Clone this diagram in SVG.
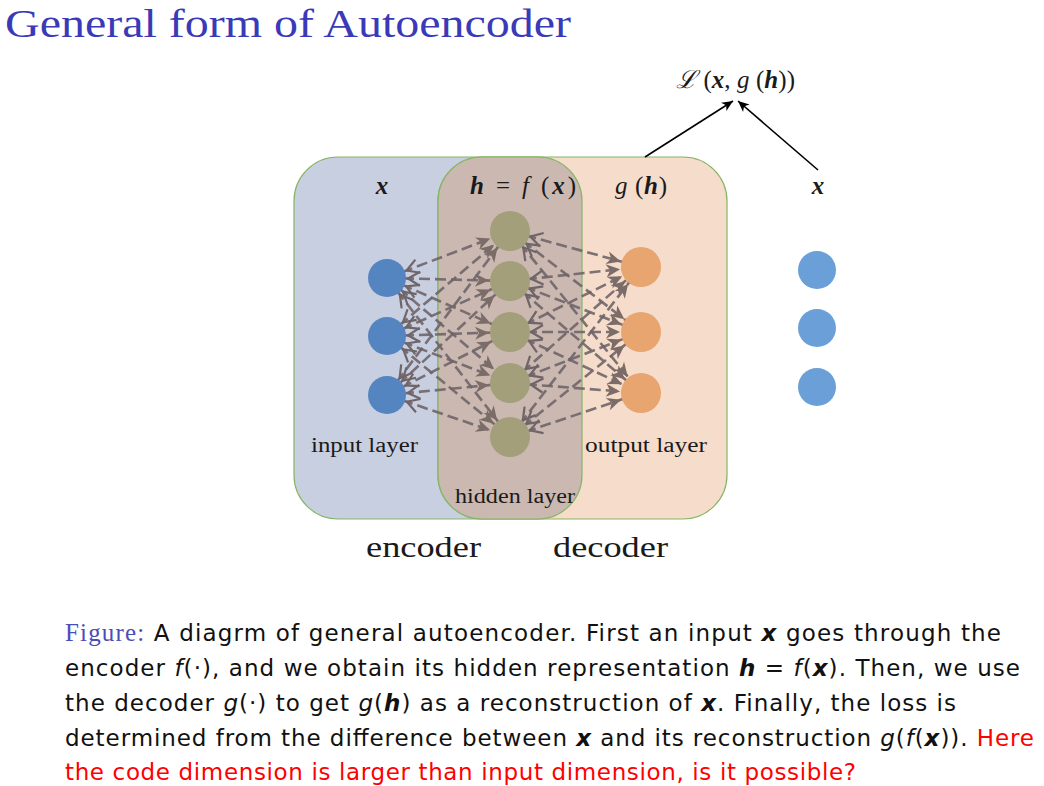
<svg xmlns="http://www.w3.org/2000/svg" width="1044" height="786" viewBox="0 0 1044 786">
  <style>
    .serif { font-family: "Liberation Serif", "DejaVu Serif", serif; fill: #1a1a1a; }
    .math { font-family: "Liberation Serif", "DejaVu Serif", serif; font-style: italic; fill: #1a1a1a; }
    .bm { font-weight: bold; font-style: italic; }
    .up { font-style: normal; }
    .cap { font-family: "DejaVu Sans", "Liberation Sans", sans-serif; font-size: 23px; fill: #111; }
    .capm { font-style: italic; }
    .capb { font-weight: bold; font-style: italic; }
    .red { fill: #ff0000; }
    .edge { fill: none; stroke: #6f6569; stroke-width: 2.6; stroke-dasharray: 11 5; stroke-opacity: 0.9;
            marker-start: url(#open); marker-end: url(#head); }
    .inp { fill: #5585c0; }
    .hid { fill: #a39f7a; }
    .out { fill: #e8a570; }
    .tgt { fill: #6a9fd8; }
    .box { stroke: #86b565; stroke-width: 1.2; }
  </style>
  <defs>
    <marker id="head" markerUnits="userSpaceOnUse" orient="auto" refX="21" refY="0"
            markerWidth="1" markerHeight="1" overflow="visible">
      <path d="M0,0 L-14,-6.5 L-10,0 L-14,6.5 Z" fill="#7c6c68"/>
    </marker>
    <marker id="open" markerUnits="userSpaceOnUse" orient="auto-start-reverse" refX="21" refY="0"
            markerWidth="1" markerHeight="1" overflow="visible">
      <path d="M-12,-7 L0,0 L-12,7" fill="none" stroke="#6f6569" stroke-width="2.2"/>
    </marker>
    <marker id="loss" markerUnits="userSpaceOnUse" orient="auto" refX="0" refY="0"
            markerWidth="1" markerHeight="1" overflow="visible">
      <path d="M0,0 L-11,-5 L-8,0 L-11,5 Z" fill="#000"/>
    </marker>
  </defs>

  <rect width="1044" height="786" fill="#ffffff"/>

  <!-- title -->
  <text x="5" y="37" font-family="Liberation Serif, DejaVu Serif, serif" font-size="40" fill="#3a3ab8"
        textLength="566" lengthAdjust="spacingAndGlyphs">General form of Autoencoder</text>

  <!-- encoder / decoder regions -->
  <g id="encoder-region">
    <rect class="box" x="294" y="157" width="288" height="362" rx="44" fill="#c8cfe0"/>
  </g>
  <g id="decoder-region">
    <rect class="box" x="438" y="157" width="289" height="362" rx="44" fill="#f6dcca"/>
  </g>
  <g id="hidden-region">
    <rect class="box" x="438" y="157" width="144" height="362" rx="44" fill="#cab8b1"/>
  </g>

  <!-- connectors -->
  <g id="connectors">
    <!-- input -> hidden -->
    <line class="edge" x1="387" y1="278" x2="510" y2="231"/>
    <line class="edge" x1="387" y1="278" x2="510" y2="281"/>
    <line class="edge" x1="387" y1="278" x2="510" y2="332"/>
    <line class="edge" x1="387" y1="278" x2="510" y2="383"/>
    <line class="edge" x1="387" y1="278" x2="510" y2="437"/>
    <line class="edge" x1="387" y1="336" x2="510" y2="231"/>
    <line class="edge" x1="387" y1="336" x2="510" y2="281"/>
    <line class="edge" x1="387" y1="336" x2="510" y2="332"/>
    <line class="edge" x1="387" y1="336" x2="510" y2="383"/>
    <line class="edge" x1="387" y1="336" x2="510" y2="437"/>
    <line class="edge" x1="387" y1="395" x2="510" y2="231"/>
    <line class="edge" x1="387" y1="395" x2="510" y2="281"/>
    <line class="edge" x1="387" y1="395" x2="510" y2="332"/>
    <line class="edge" x1="387" y1="395" x2="510" y2="383"/>
    <line class="edge" x1="387" y1="395" x2="510" y2="437"/>
    <!-- hidden -> output -->
    <line class="edge" x1="510" y1="231" x2="641" y2="267"/>
    <line class="edge" x1="510" y1="231" x2="641" y2="332"/>
    <line class="edge" x1="510" y1="231" x2="641" y2="393"/>
    <line class="edge" x1="510" y1="281" x2="641" y2="267"/>
    <line class="edge" x1="510" y1="281" x2="641" y2="332"/>
    <line class="edge" x1="510" y1="281" x2="641" y2="393"/>
    <line class="edge" x1="510" y1="332" x2="641" y2="267"/>
    <line class="edge" x1="510" y1="332" x2="641" y2="332"/>
    <line class="edge" x1="510" y1="332" x2="641" y2="393"/>
    <line class="edge" x1="510" y1="383" x2="641" y2="267"/>
    <line class="edge" x1="510" y1="383" x2="641" y2="332"/>
    <line class="edge" x1="510" y1="383" x2="641" y2="393"/>
    <line class="edge" x1="510" y1="437" x2="641" y2="267"/>
    <line class="edge" x1="510" y1="437" x2="641" y2="332"/>
    <line class="edge" x1="510" y1="437" x2="641" y2="393"/>
    <!-- reconstruction and target feed the loss -->
    <line x1="645" y1="157" x2="733" y2="101" stroke="#000" stroke-width="1.6" marker-end="url(#loss)"/>
    <line x1="818" y1="170" x2="738" y2="101" stroke="#000" stroke-width="1.6" marker-end="url(#loss)"/>
  </g>

  <!-- input layer -->
  <g id="input-layer">
    <circle class="inp" cx="387" cy="278" r="19"/>
    <circle class="inp" cx="387" cy="336" r="19"/>
    <circle class="inp" cx="387" cy="395" r="19"/>
    <text class="math bm" x="382" y="194" font-size="25" text-anchor="middle">x</text>
    <text class="serif" x="311" y="452" font-size="20" textLength="107" lengthAdjust="spacingAndGlyphs">input layer</text>
  </g>

  <!-- hidden layer -->
  <g id="hidden-layer">
    <circle class="hid" cx="510" cy="231" r="20"/>
    <circle class="hid" cx="510" cy="281" r="20"/>
    <circle class="hid" cx="510" cy="332" r="20"/>
    <circle class="hid" cx="510" cy="383" r="20"/>
    <circle class="hid" cx="510" cy="437" r="20"/>
    <text class="math" x="470" y="194" font-size="25" textLength="106" lengthAdjust="spacing"><tspan class="bm">h</tspan><tspan class="up"> = </tspan>f<tspan class="up"> (</tspan><tspan class="bm">x</tspan><tspan class="up">)</tspan></text>
    <text class="serif" x="455" y="503" font-size="20" textLength="120" lengthAdjust="spacingAndGlyphs">hidden layer</text>
  </g>

  <!-- output layer -->
  <g id="output-layer">
    <circle class="out" cx="641" cy="267" r="20"/>
    <circle class="out" cx="641" cy="332" r="20"/>
    <circle class="out" cx="641" cy="393" r="20"/>
    <text class="math" x="615" y="194" font-size="25" textLength="52" lengthAdjust="spacing">g<tspan class="up"> (</tspan><tspan class="bm">h</tspan><tspan class="up">)</tspan></text>
    <text class="serif" x="585" y="452" font-size="20" textLength="122" lengthAdjust="spacingAndGlyphs">output layer</text>
  </g>

  <!-- target x -->
  <g id="target">
    <circle class="tgt" cx="817" cy="270" r="19"/>
    <circle class="tgt" cx="817" cy="328" r="19"/>
    <circle class="tgt" cx="817" cy="387" r="19"/>
    <text class="math bm" x="818" y="194" font-size="25" text-anchor="middle">x</text>
  </g>

  <!-- loss -->
  <g id="loss-label">
    <text class="math" x="676" y="88" font-size="25" textLength="119" lengthAdjust="spacing">ℒ<tspan class="up"> (</tspan><tspan class="bm">x</tspan><tspan class="up">, </tspan>g<tspan class="up"> (</tspan><tspan class="bm">h</tspan><tspan class="up">))</tspan></text>
  </g>

  <!-- encoder / decoder captions -->
  <text class="serif" x="366" y="557" font-size="29" textLength="115" lengthAdjust="spacingAndGlyphs">encoder</text>
  <text class="serif" x="553" y="557" font-size="29" textLength="115" lengthAdjust="spacingAndGlyphs">decoder</text>

  <!-- figure caption -->
  <g id="caption">
    <text class="cap" x="65" y="641" textLength="936" lengthAdjust="spacing"><tspan fill="#4d4db8" font-family="Liberation Serif, DejaVu Serif, serif" font-size="25">Figure:</tspan> A diagrm of general autoencoder. First an input <tspan class="capb">x</tspan> goes through the</text>
    <text class="cap" x="65" y="676" textLength="955" lengthAdjust="spacing">encoder <tspan class="capm">f</tspan>(·), and we obtain its hidden representation <tspan class="capb">h</tspan> = <tspan class="capm">f</tspan>(<tspan class="capb">x</tspan>). Then, we use</text>
    <text class="cap" x="65" y="711" textLength="891" lengthAdjust="spacing">the decoder <tspan class="capm">g</tspan>(·) to get <tspan class="capm">g</tspan>(<tspan class="capb">h</tspan>) as a reconstruction of <tspan class="capb">x</tspan>. Finally, the loss is</text>
    <text class="cap" x="65" y="746" textLength="969" lengthAdjust="spacing">determined from the difference between <tspan class="capb">x</tspan> and its reconstruction <tspan class="capm">g</tspan>(<tspan class="capm">f</tspan>(<tspan class="capb">x</tspan>)). <tspan class="red">Here</tspan></text>
    <text class="cap red" x="65" y="780" textLength="791" lengthAdjust="spacing">the code dimension is larger than input dimension, is it possible?</text>
  </g>
</svg>
